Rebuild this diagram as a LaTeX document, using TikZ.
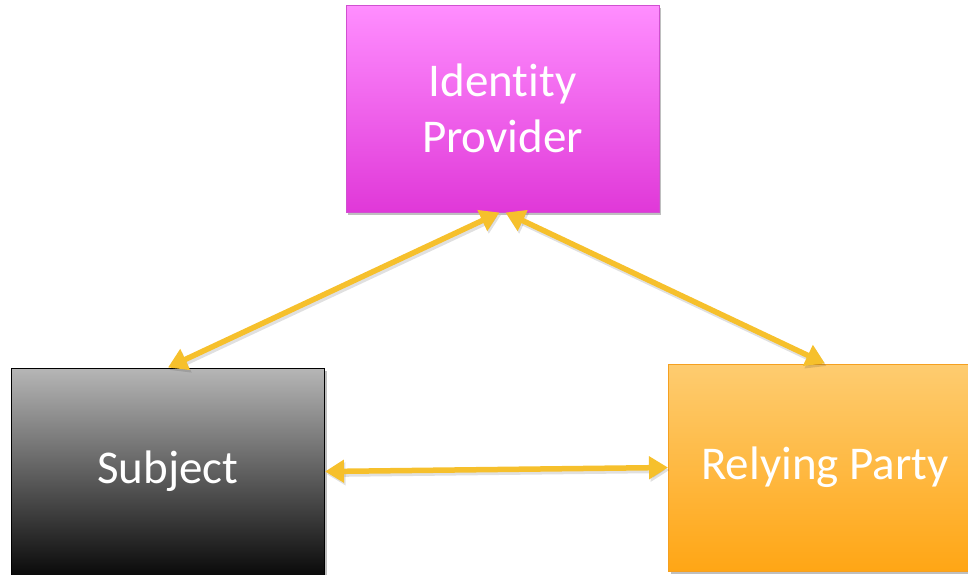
\documentclass[tikz,border=0pt]{standalone}
\usepackage{fontspec}
\setmainfont[Ligatures={NoCommon}]{Carlito}
\usetikzlibrary{arrows.meta,shadows}

\definecolor{idptop}{HTML}{FF8EFF}
\definecolor{idpmid}{HTML}{F276F2}
\definecolor{idpbot}{HTML}{E038D8}
\definecolor{idpline}{HTML}{D050D0}
\definecolor{subtop}{HTML}{B6B6B6}
\definecolor{submid}{HTML}{747474}
\definecolor{subbot}{HTML}{0A0A0A}
\definecolor{rptop}{HTML}{FECC70}
\definecolor{rpmid}{HTML}{FFBA45}
\definecolor{rpbot}{HTML}{FFA615}
\definecolor{rpline}{HTML}{F5A020}
\definecolor{linkgold}{HTML}{F6C02C}

\tikzset{
  party/.style={
    rectangle, minimum width=313pt, minimum height=207pt,
    inner sep=0pt, line width=1pt, text=white,
    font=\fontsize{47}{56}\selectfont, align=center,
    shading=axis, shading angle=0,
    drop shadow={shadow xshift=2pt, shadow yshift=-3pt, opacity=0.25, fill=black}
  },
  link/.style={
    draw=linkgold, line width=5.5pt,
    {Triangle[length=19pt,width=22pt]}-{Triangle[length=19pt,width=22pt]},
    preaction={draw=black, opacity=0.12, line width=6pt,
      transform canvas={shift={(1.5pt,-2.5pt)}}}
  }
}

\begin{document}
\begin{tikzpicture}[x=1pt,y=-1pt]
  \useasboundingbox (0,0) rectangle (968,574);
  \clip (0,0) rectangle (968,574);

  % the three parties
  \node[party, draw=idpline, top color=idptop, middle color=idpmid, bottom color=idpbot]
    (idp) at (502.5,108.5) {Identity\\Provider};
  \node[party, draw=black, top color=subtop, middle color=submid, bottom color=subbot]
    (subj) at (168,471.5) {\raisebox{-3pt}{Subject}};
  \node[party, draw=rpline, top color=rptop, middle color=rpmid, bottom color=rpbot]
    (rp) at (825,467.5) {Relying Party};

  % two-way links between them
  \draw[link] ([xshift=-3pt]idp.south) -- (subj.north);
  \draw[link] ([xshift=3pt]idp.south) -- (rp.north);
  \draw[link] (subj.east) -- (rp.west);
\end{tikzpicture}
\end{document}
